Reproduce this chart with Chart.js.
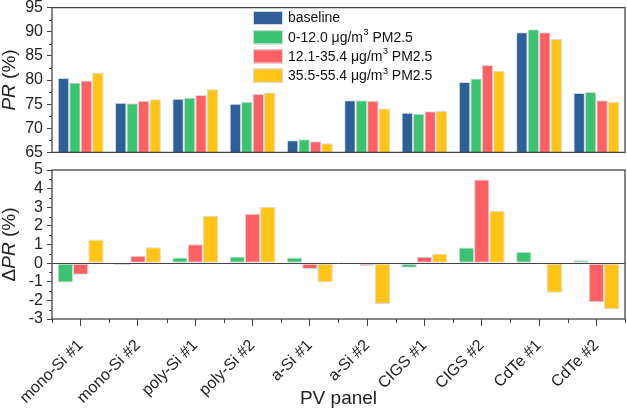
<!DOCTYPE html>
<html>
<head>
<meta charset="utf-8">
<script src="https://cdn.jsdelivr.net/npm/chart.js@4.4.1/dist/chart.umd.min.js"></script>
<style>
  html, body { margin: 0; padding: 0; background: #fff; }
  #wrap { position: relative; width: 627px; height: 410px; overflow: hidden; }
  #prChart { position: absolute; left: 0; top: -6px; }
  #dprChart { position: absolute; left: 0; top: 150px; }
</style>
</head>
<body>
<div id="wrap">
  <canvas id="prChart" width="627" height="172"></canvas>
  <canvas id="dprChart" width="627" height="260"></canvas>
</div>
<script>
const panels = ['mono-Si #1', 'mono-Si #2', 'poly-Si #1', 'poly-Si #2', 'a-Si #1',
  'a-Si #2', 'CIGS #1', 'CIGS #2', 'CdTe #1', 'CdTe #2']

// PR (%) - top panel
const prBaseline = [80.4, 75.3, 76.1, 75.1, 67.5, 75.8, 73.2, 79.6, 89.9, 77.3]
const prLow = [79.5, 75.2, 76.3, 75.5, 67.7, 75.8, 73.0, 80.3, 90.5, 77.5]
const prMid = [79.9, 75.7, 76.9, 77.1, 67.3, 75.7, 73.5, 83.1, 89.9, 75.8]
const prHigh = [81.5, 76.0, 78.1, 77.4, 66.9, 74.1, 73.6, 81.9, 88.5, 75.5]

// delta PR (%) - bottom panel
const dprLow = [-1.04, -0.1, 0.3, 0.35, 0.3, -0.03, -0.25, 0.84, 0.61, 0.15]
const dprMid = [-0.63, 0.4, 1.02, 2.65, -0.32, -0.16, 0.34, 4.49, 0, -2.1]
const dprHigh = [1.27, 0.85, 2.55, 3.03, -1.03, -2.2, 0.5, 2.81, -1.59, -2.47]

const seriesNames = ['baseline', '0-12.0 μg/m|3| PM2.5', '12.1-35.4 μg/m|3| PM2.5', '35.5-55.4 μg/m|3| PM2.5']
const colors = ['#2e5f99', '#3bc46f', '#fe6165', '#ffc414']
const edge = '#d8d8d8'
const frame = '#444'
const font = "'Liberation Sans', Arial, sans-serif"

Chart.defaults.font.family = font
Chart.defaults.color = '#222'

function bars(label, data, color) {
  return {
    label: label, data: data, backgroundColor: color,
    borderColor: edge, borderWidth: 1, borderSkipped: false,
    categoryPercentage: 0.8, barPercentage: 1.0
  }
}

// frame, minor ticks, axis title with italic part
function decorPlugin(opts) {
  return {
    id: 'decor',
    afterDatasetsDraw(chart) {
      const ctx = chart.ctx
      const a = chart.chartArea
      const y = chart.scales.y
      const x = chart.scales.x
      ctx.save()
      ctx.strokeStyle = frame
      if (opts.zeroLine) {
        const y0 = Math.round(y.getPixelForValue(0)) + 0.5
        ctx.lineWidth = 1
        ctx.beginPath(); ctx.moveTo(a.left, y0); ctx.lineTo(a.right, y0); ctx.stroke()
      }
      ctx.lineWidth = 1.3
      ctx.strokeRect(a.left, a.top, a.right - a.left, a.bottom - a.top)
      // minor y ticks
      ctx.lineWidth = 1
      for (let v = y.min; v <= y.max + 1e-6; v += opts.minorStep) {
        const r = Math.abs((v - y.min) / opts.majorStep - Math.round((v - y.min) / opts.majorStep))
        if (r < 1e-6) continue
        const py = Math.round(y.getPixelForValue(v)) + 0.5
        ctx.beginPath(); ctx.moveTo(a.left, py); ctx.lineTo(a.left - 3, py); ctx.stroke()
      }
      // minor x ticks at category boundaries
      if (opts.xMinor) {
        const step = x.getPixelForValue(1) - x.getPixelForValue(0)
        for (let i = 0; i <= panels.length; i++) {
          const px = Math.round(x.getPixelForValue(0) - step / 2 + i * step) + 0.5
          ctx.beginPath(); ctx.moveTo(px, a.bottom); ctx.lineTo(px, a.bottom + 4); ctx.stroke()
        }
      }
      // y title
      ctx.translate(10, (a.top + a.bottom) / 2 + opts.titleShift)
      ctx.rotate(-Math.PI / 2)
      ctx.fillStyle = '#222'
      ctx.textBaseline = 'middle'
      const parts = opts.title
      let total = 0
      parts.forEach(p => { ctx.font = (p[1] ? 'italic ' : '') + '19px ' + font; total += ctx.measureText(p[0]).width })
      let cx = -total / 2
      parts.forEach(p => {
        ctx.font = (p[1] ? 'italic ' : '') + '19px ' + font
        ctx.fillText(p[0], cx, 0)
        cx += ctx.measureText(p[0]).width
      })
      ctx.restore()
    }
  }
}

const legendPlugin = {
  id: 'boxLegend',
  afterDraw(chart) {
    const ctx = chart.ctx
    ctx.save()
    ctx.textBaseline = 'middle'
    seriesNames.forEach((name, i) => {
      const top = 17 + i * 19.2
      ctx.fillStyle = colors[i]
      ctx.fillRect(253, top, 30, 14)
      ctx.strokeStyle = edge
      ctx.lineWidth = 1
      ctx.strokeRect(253.5, top + 0.5, 29, 13)
      ctx.fillStyle = '#111'
      let x = 288
      const cy = top + 7.5
      name.split('|').forEach((piece, k) => {
        if (k === 1) {
          ctx.font = '9px ' + font
          ctx.fillText(piece, x + 0.5, cy - 5)
          x += ctx.measureText(piece).width + 0.5
        } else {
          ctx.font = '14px ' + font
          ctx.fillText(piece, x, cy)
          x += ctx.measureText(piece).width
        }
      })
    })
    ctx.restore()
  }
}

const yTicks = { font: { size: 16 }, color: '#222', padding: 4, autoSkip: false }

new Chart(document.getElementById('prChart'), {
  type: 'bar',
  data: {
    labels: panels,
    datasets: [
      bars('baseline', prBaseline, colors[0]),
      bars('low', prLow, colors[1]),
      bars('mid', prMid, colors[2]),
      bars('high', prHigh, colors[3])
    ]
  },
  options: {
    responsive: false,
    animation: false,
    layout: { padding: { top: 12, bottom: 10, right: 2, left: 0 } },
    plugins: { legend: { display: false }, tooltip: { enabled: false } },
    scales: {
      x: { display: false },
      y: {
        min: 65, max: 95,
        ticks: Object.assign({ stepSize: 5 }, yTicks),
        border: { display: false },
        grid: { drawOnChartArea: false, tickLength: 5, tickColor: frame },
        afterFit(scale) { scale.width = 52 }
      }
    }
  },
  plugins: [decorPlugin({ minorStep: 2.5, majorStep: 5, title: [['PR', true], [' (%)', false]], titleShift: 0 }), legendPlugin]
})

new Chart(document.getElementById('dprChart'), {
  type: 'bar',
  data: {
    labels: panels,
    datasets: [
      bars('low', dprLow, colors[1]),
      bars('mid', dprMid, colors[2]),
      bars('high', dprHigh, colors[3])
    ]
  },
  options: {
    responsive: false,
    animation: false,
    layout: { padding: { top: 20, bottom: 0, right: 2, left: 0 } },
    plugins: { legend: { display: false }, tooltip: { enabled: false } },
    scales: {
      x: {
        border: { display: false },
        grid: { drawOnChartArea: false, offset: false, tickLength: 7, tickColor: frame },
        ticks: { font: { size: 16 }, color: '#222', maxRotation: 45, minRotation: 45, padding: 10, autoSkip: false },
        title: { display: true, text: 'PV panel', font: { size: 19 }, color: '#222', padding: { top: 4, bottom: 0 } },
        afterFit(scale) { scale.height = 91 }
      },
      y: {
        min: -3, max: 5,
        ticks: Object.assign({ stepSize: 1 }, yTicks),
        border: { display: false },
        grid: { drawOnChartArea: false, tickLength: 5, tickColor: frame },
        afterFit(scale) { scale.width = 52 }
      }
    }
  },
  plugins: [decorPlugin({ minorStep: 0.5, majorStep: 1, zeroLine: true, xMinor: true, title: [['Δ', false], ['PR', true], [' (%)', false]], titleShift: 0 })]
})
</script>
</body>
</html>
